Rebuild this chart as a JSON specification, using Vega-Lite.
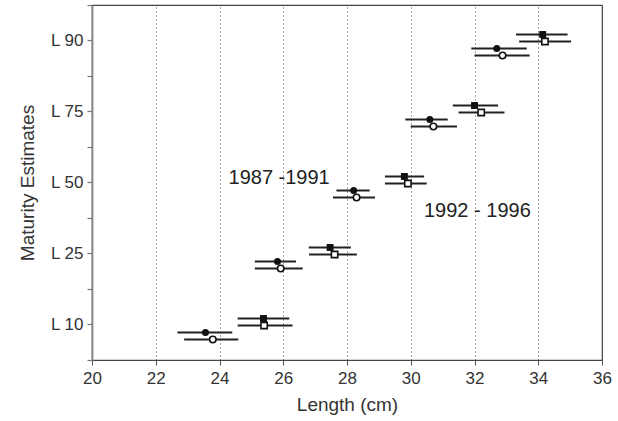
{
  "$schema": "https://vega.github.io/schema/vega-lite/v6.json",
  "width": 510,
  "height": 355,
  "autosize": "none",
  "padding": {"left": 92, "top": 5, "right": 16, "bottom": 61},
  "config": {
    "view": {"stroke": "#444", "strokeWidth": 1.2},
    "font": "Liberation Sans"
  },
  "datasets": {
    "est": [
      {"level": "L 10", "period": "1987-1991", "method": "filled", "est": 23.56, "lo": 22.68, "hi": 24.40},
      {"level": "L 10", "period": "1987-1991", "method": "open", "est": 23.79, "lo": 22.89, "hi": 24.59},
      {"level": "L 10", "period": "1992-1996", "method": "filled", "est": 25.38, "lo": 24.57, "hi": 26.19},
      {"level": "L 10", "period": "1992-1996", "method": "open", "est": 25.40, "lo": 24.57, "hi": 26.29},
      {"level": "L 25", "period": "1987-1991", "method": "filled", "est": 25.82, "lo": 25.11, "hi": 26.40},
      {"level": "L 25", "period": "1987-1991", "method": "open", "est": 25.92, "lo": 25.11, "hi": 26.61},
      {"level": "L 25", "period": "1992-1996", "method": "filled", "est": 27.47, "lo": 26.80, "hi": 28.12},
      {"level": "L 25", "period": "1992-1996", "method": "open", "est": 27.61, "lo": 26.81, "hi": 28.31},
      {"level": "L 50", "period": "1987-1991", "method": "filled", "est": 28.21, "lo": 27.67, "hi": 28.71},
      {"level": "L 50", "period": "1987-1991", "method": "open", "est": 28.30, "lo": 27.56, "hi": 28.88},
      {"level": "L 50", "period": "1992-1996", "method": "filled", "est": 29.80, "lo": 29.19, "hi": 30.42},
      {"level": "L 50", "period": "1992-1996", "method": "open", "est": 29.91, "lo": 29.19, "hi": 30.50},
      {"level": "L 75", "period": "1987-1991", "method": "filled", "est": 30.60, "lo": 29.83, "hi": 31.16},
      {"level": "L 75", "period": "1987-1991", "method": "open", "est": 30.71, "lo": 30.00, "hi": 31.45},
      {"level": "L 75", "period": "1992-1996", "method": "filled", "est": 32.00, "lo": 31.32, "hi": 32.74},
      {"level": "L 75", "period": "1992-1996", "method": "open", "est": 32.21, "lo": 31.50, "hi": 32.94},
      {"level": "L 90", "period": "1987-1991", "method": "filled", "est": 32.70, "lo": 31.90, "hi": 33.64},
      {"level": "L 90", "period": "1987-1991", "method": "open", "est": 32.88, "lo": 32.00, "hi": 33.73},
      {"level": "L 90", "period": "1992-1996", "method": "filled", "est": 34.14, "lo": 33.30, "hi": 34.92},
      {"level": "L 90", "period": "1992-1996", "method": "open", "est": 34.21, "lo": 33.40, "hi": 35.03}
    ],
    "notes": [
      {"label": "1987 -1991", "x": 25.87, "level": "L 50"},
      {"label": "1992 - 1996", "x": 32.09, "level": "L 50"}
    ]
  },
  "resolve": {"axis": {"y": "independent"}},
  "layer": [
    {
      "data": {"name": "est"},
      "transform": [{"filter": "datum.period == '1992-1996' && datum.method == 'filled'"}],
      "mark": {"type": "rule", "color": "#222", "strokeWidth": 2, "yOffset": -6},
      "encoding": {
        "x": {"field": "lo", "type": "quantitative", "title": "Length (cm)",
          "scale": {"domain": [20, 36], "nice": false, "zero": false},
          "axis": {"title": "Length (cm)", "values": [20, 22, 24, 26, 28, 30, 32, 34, 36], "grid": true, "gridDash": [1, 3], "gridColor": "#444", "gridWidth": 1, "tickSize": 5, "tickColor": "#555", "domainColor": "#444", "domainWidth": 1.2, "labelPadding": 5, "titlePadding": 9, "labelFlush": false, "labelFont": "Liberation Sans", "labelFontSize": 17, "labelColor": "#333", "titleFont": "Liberation Sans", "titleFontSize": 19, "titleFontWeight": "normal", "titleColor": "#333"}},
        "x2": {"field": "hi"},
        "y": {"field": "level", "type": "nominal",
          "scale": {"domain": ["L 90", "L 75", "L 50", "L 25", "L 10"], "paddingInner": 0, "paddingOuter": 0},
          "axis": {"orient": "left", "title": "Maturity Estimates", "tickSize": 5, "tickColor": "#777", "tickWidth": 1.2, "domainColor": "#888", "domainWidth": 1.8, "labelPadding": 4, "titlePadding": 12, "grid": false, "labelFont": "Liberation Sans", "labelFontSize": 17, "labelColor": "#333", "titleFont": "Liberation Sans", "titleFontSize": 19, "titleFontWeight": "normal", "titleColor": "#333"}}
      }
    },
    {
      "data": {"name": "est"},
      "transform": [{"filter": "datum.period == '1992-1996' && datum.method == 'open'"}],
      "mark": {"type": "rule", "color": "#222", "strokeWidth": 2, "yOffset": 1},
      "encoding": {
        "x": {"field": "lo", "type": "quantitative", "title": "Length (cm)"},
        "x2": {"field": "hi"},
        "y": {"field": "level", "type": "nominal",
          "axis": {"orient": "left", "tickBand": "extent", "labels": false, "domain": false, "grid": false, "title": null, "tickSize": 5, "tickColor": "#777", "tickWidth": 1.2}}
      }
    },
    {
      "data": {"name": "est"},
      "transform": [{"filter": "datum.period == '1987-1991' && datum.method == 'filled'"}],
      "mark": {"type": "rule", "color": "#222", "strokeWidth": 2, "yOffset": 8},
      "encoding": {
        "x": {"field": "lo", "type": "quantitative", "title": "Length (cm)"},
        "x2": {"field": "hi"},
        "y": {"field": "level", "type": "nominal", "axis": null}
      }
    },
    {
      "data": {"name": "est"},
      "transform": [{"filter": "datum.period == '1987-1991' && datum.method == 'open'"}],
      "mark": {"type": "rule", "color": "#222", "strokeWidth": 2, "yOffset": 15},
      "encoding": {
        "x": {"field": "lo", "type": "quantitative", "title": "Length (cm)"},
        "x2": {"field": "hi"},
        "y": {"field": "level", "type": "nominal", "axis": null}
      }
    },
    {
      "data": {"name": "est"},
      "transform": [{"filter": "datum.period == '1992-1996' && datum.method == 'filled'"}],
      "mark": {"type": "point", "shape": "square", "filled": true, "color": "#111", "opacity": 1, "size": 48, "yOffset": -6},
      "encoding": {
        "x": {"field": "est", "type": "quantitative", "title": "Length (cm)"},
        "y": {"field": "level", "type": "nominal", "axis": null}
      }
    },
    {
      "data": {"name": "est"},
      "transform": [{"filter": "datum.period == '1992-1996' && datum.method == 'open'"}],
      "mark": {"type": "point", "shape": "square", "filled": true, "fill": "white", "stroke": "#111", "strokeWidth": 1.6, "opacity": 1, "size": 40, "yOffset": 1},
      "encoding": {
        "x": {"field": "est", "type": "quantitative", "title": "Length (cm)"},
        "y": {"field": "level", "type": "nominal", "axis": null}
      }
    },
    {
      "data": {"name": "est"},
      "transform": [{"filter": "datum.period == '1987-1991' && datum.method == 'filled'"}],
      "mark": {"type": "point", "shape": "circle", "filled": true, "color": "#111", "opacity": 1, "size": 50, "yOffset": 8},
      "encoding": {
        "x": {"field": "est", "type": "quantitative", "title": "Length (cm)"},
        "y": {"field": "level", "type": "nominal", "axis": null}
      }
    },
    {
      "data": {"name": "est"},
      "transform": [{"filter": "datum.period == '1987-1991' && datum.method == 'open'"}],
      "mark": {"type": "point", "shape": "circle", "filled": true, "fill": "white", "stroke": "#111", "strokeWidth": 1.6, "opacity": 1, "size": 42, "yOffset": 15},
      "encoding": {
        "x": {"field": "est", "type": "quantitative", "title": "Length (cm)"},
        "y": {"field": "level", "type": "nominal", "axis": null}
      }
    },
    {
      "data": {"name": "notes"},
      "transform": [{"filter": "datum.label == '1987 -1991'"}],
      "mark": {"type": "text", "font": "Liberation Sans", "fontSize": 20, "color": "#222", "align": "center", "baseline": "middle", "dy": -5},
      "encoding": {
        "x": {"field": "x", "type": "quantitative", "title": "Length (cm)"},
        "y": {"field": "level", "type": "nominal", "axis": null},
        "text": {"field": "label"}
      }
    },
    {
      "data": {"name": "notes"},
      "transform": [{"filter": "datum.label == '1992 - 1996'"}],
      "mark": {"type": "text", "font": "Liberation Sans", "fontSize": 20, "color": "#222", "align": "center", "baseline": "middle", "dy": 28},
      "encoding": {
        "x": {"field": "x", "type": "quantitative", "title": "Length (cm)"},
        "y": {"field": "level", "type": "nominal", "axis": null},
        "text": {"field": "label"}
      }
    }
  ]
}
